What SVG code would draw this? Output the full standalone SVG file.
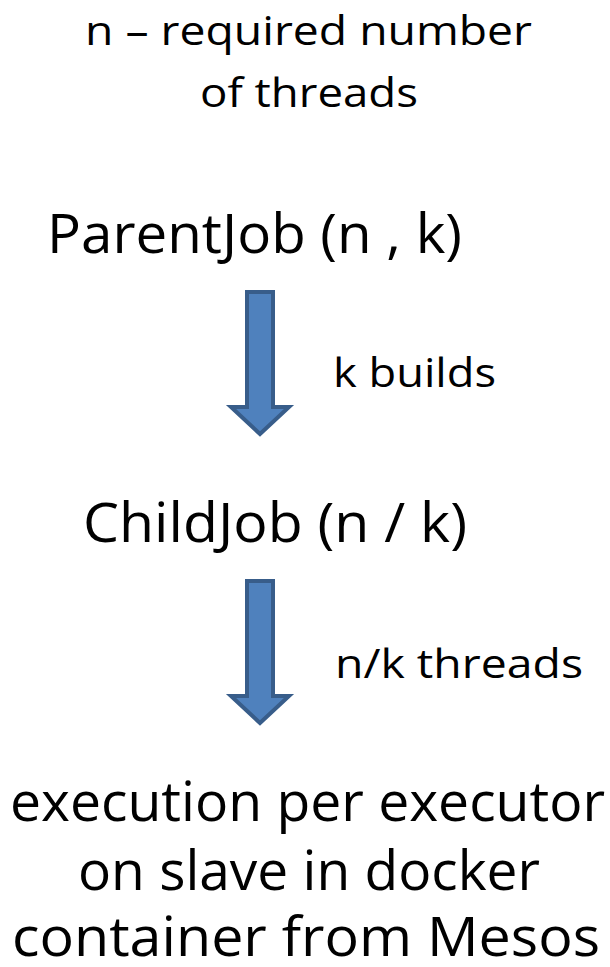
<svg xmlns="http://www.w3.org/2000/svg" width="610" height="967" viewBox="0 0 610 967">
<style>
text{font-family:"Open Sans","Noto Sans","Liberation Sans",sans-serif;fill:#000;font-variant-ligatures:none;}
.s{font-size:41px;}
.b{font-size:54px;}
.arrow{fill:#4f81bd;stroke:#385d8a;stroke-width:4;stroke-linejoin:miter;}
</style>
<rect width="610" height="967" fill="#fff"/>
<g id="note">
<text class="s" x="85" y="45" textLength="447" lengthAdjust="spacingAndGlyphs">n – required number</text>
<text class="s" x="200" y="107" textLength="218" lengthAdjust="spacingAndGlyphs">of threads</text>
</g>
<g id="parent">
<text class="b" x="47" y="253" textLength="415" lengthAdjust="spacingAndGlyphs">ParentJob (n , k)</text>
</g>
<g id="child">
<text class="b" x="83" y="542" textLength="384" lengthAdjust="spacingAndGlyphs">ChildJob (n / k)</text>
</g>
<g id="execution">
<text class="b" x="10" y="821" textLength="595" lengthAdjust="spacingAndGlyphs">execution per executor</text>
<text class="b" x="78" y="890" textLength="462" lengthAdjust="spacingAndGlyphs">on slave in docker</text>
<text class="b" x="12" y="956" textLength="588" lengthAdjust="spacingAndGlyphs">container from Mesos</text>
</g>
<g id="connectors">
<g id="arrow1">
<path class="arrow" d="M247,292 H273 V407 H289 L260,434 L231,407 H247 Z"/>
<text class="s" x="333" y="387" textLength="163" lengthAdjust="spacingAndGlyphs">k builds</text>
</g>
<g id="arrow2">
<path class="arrow" d="M247,581 H273 V696 H289 L260,723 L231,696 H247 Z"/>
<text class="s" x="335" y="678" textLength="248" lengthAdjust="spacingAndGlyphs">n/k threads</text>
</g>
</g>
</svg>
